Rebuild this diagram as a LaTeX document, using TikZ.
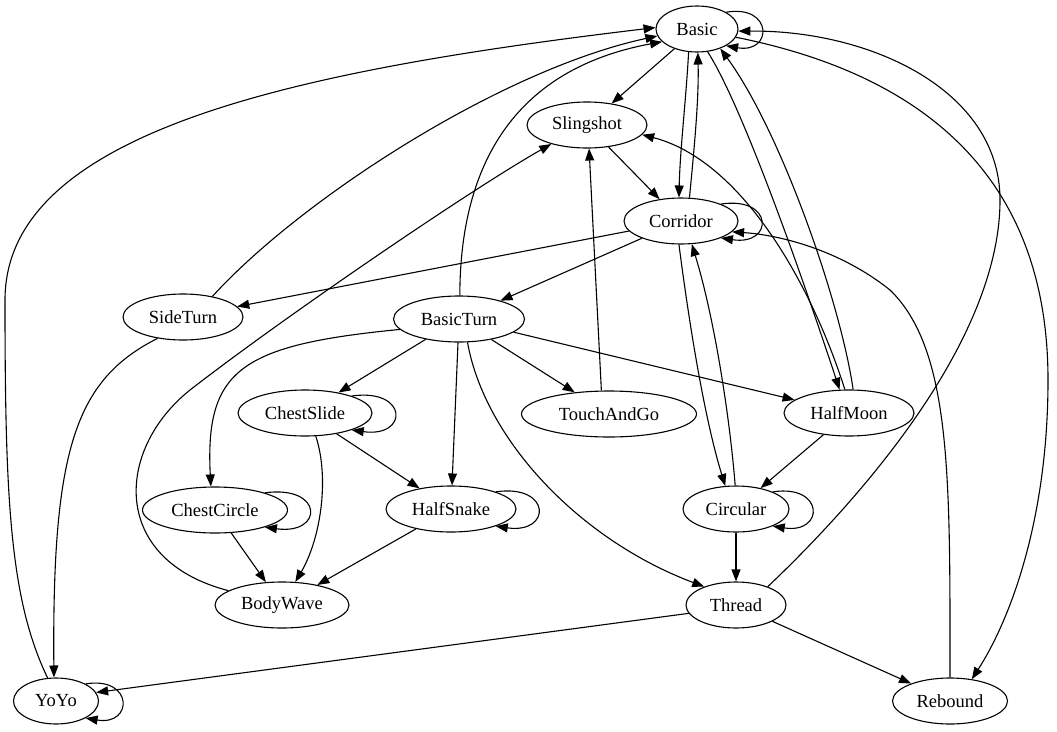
\documentclass[tikz,border=0pt]{standalone}
\usepackage{fontspec}
\setmainfont{Liberation Serif}
\usetikzlibrary{shapes.geometric,arrows.meta}
\begin{document}
\begin{tikzpicture}[x=1pt,y=1pt,
  nd/.style={ellipse,draw,line width=1.1pt,inner sep=0pt,minimum height=46pt,font=\fontsize{18.5}{20}\selectfont},
  e/.style={line width=1.1pt,-{Triangle[length=12pt,width=9pt]}}]
\useasboundingbox (0,0) rectangle (1057,-731);
\node[nd,minimum width=82pt]  (Basic)       at (697,-29)  {Basic};
\node[nd,minimum width=120pt] (Slingshot)   at (587,-125) {Slingshot};
\node[nd,minimum width=114pt] (Corridor)    at (681,-221) {Corridor};
\node[nd,minimum width=120pt] (SideTurn)    at (183,-317) {SideTurn};
\node[nd,minimum width=131pt] (BasicTurn)   at (459,-319) {BasicTurn};
\node[nd,minimum width=134pt] (ChestSlide)  at (305,-413) {ChestSlide};
\node[nd,minimum width=175pt] (TouchAndGo)  at (609,-414) {TouchAndGo};
\node[nd,minimum width=130pt] (HalfMoon)    at (849,-413) {HalfMoon};
\node[nd,minimum width=145pt] (ChestCircle) at (215,-510) {ChestCircle};
\node[nd,minimum width=130pt] (HalfSnake)   at (451,-509) {HalfSnake};
\node[nd,minimum width=106pt] (Circular)    at (736,-509) {Circular};
\node[nd,minimum width=134pt] (BodyWave)    at (282,-605) {BodyWave};
\node[nd,minimum width=100pt] (Thread)      at (736,-605) {Thread};
\node[nd,minimum width=85pt]  (YoYo)        at (56,-701)  {YoYo};
\node[nd,minimum width=115pt] (Rebound)     at (950,-701) {Rebound};

% self loops
\draw[e] (Basic.30) .. controls +(47,8) and +(47,-8) .. (Basic.-30);
\draw[e] (Corridor.23) .. controls +(53,8) and +(53,-8) .. (Corridor.-23);
\draw[e] (ChestSlide.20) .. controls +(57,8) and +(57,-8) .. (ChestSlide.-20);
\draw[e] (ChestCircle.19) .. controls +(59,8) and +(59,-8) .. (ChestCircle.-19);
\draw[e] (HalfSnake.21) .. controls +(56,8) and +(56,-8) .. (HalfSnake.-21);
\draw[e] (Circular.25) .. controls +(52,8) and +(52,-8) .. (Circular.-25);
\draw[e] (YoYo.30) .. controls +(48,8) and +(48,-8) .. (YoYo.-30);

% straight edges
\draw[e] (Basic) -- (Slingshot);
\draw[e] (Slingshot) -- (Corridor);
\draw[e] (Corridor) -- (SideTurn);
\draw[e] (Corridor) -- (BasicTurn);
\draw[e] (BasicTurn) -- (ChestSlide);
\draw[e] (BasicTurn) -- (TouchAndGo);
\draw[e] (BasicTurn) -- (HalfMoon);
\draw[e] (BasicTurn) -- (HalfSnake);
\draw[e] (ChestSlide) -- (HalfSnake);
\draw[e] (HalfMoon) -- (Circular);
\draw[e] (ChestCircle) -- (BodyWave);
\draw[e] (HalfSnake) -- (BodyWave);
\draw[e] (Circular) -- (Thread);
\draw[e] (Thread) -- (Rebound);
\draw[e] (Thread.190) -- (YoYo.12);
\draw[e] (TouchAndGo.108) -- (Slingshot.-85);

% curved edges
\draw[e] (Basic.-110) .. controls (686,-100) and (680,-150) .. (Corridor.95);
\draw[e] (Corridor.70) .. controls (694,-150) and (699,-100) .. (Basic.-88);
\draw[e] (Basic.-65) .. controls (745,-110) and (810,-300) .. (HalfMoon.112);
\draw[e] (HalfMoon.80) .. controls (840,-300) and (780,-130) .. (Basic.-40);
\draw[e] (Basic.-12) .. controls (950,-80) and (1048,-200) .. (1048,-380)
   .. controls (1048,-520) and (1010,-620) .. (Rebound.45);
\draw[e] (Thread.30) .. controls (880,-480) and (1000,-330) .. (1000,-200)
   .. controls (1000,-90) and (870,-30) .. (Basic.-3);
\draw[e] (Corridor.-95) .. controls (690,-330) and (705,-420) .. (Circular.115);
\draw[e] (Circular.92) .. controls (730,-420) and (715,-320) .. (Corridor.-65);
\draw[e] (SideTurn.35) .. controls (300,-200) and (500,-70) .. (Basic.190);
\draw[e] (SideTurn.-140) .. controls (75,-380) and (52,-450) .. (YoYo.95);
\draw[e] (BasicTurn.88) .. controls (460,-170) and (510,-70) .. (Basic.200);
\draw[e] (BasicTurn.190) .. controls (240,-345) and (205,-370) .. (ChestCircle.100);
\draw[e] (BasicTurn.-70) .. controls (485,-440) and (580,-540) .. (Thread.150);
\draw[e] (ChestSlide.-65) .. controls (330,-480) and (320,-540) .. (BodyWave.60);
\draw[e] (HalfMoon.100) .. controls (810,-280) and (740,-160) .. (Slingshot.-10);
\draw[e] (BodyWave.165) .. controls (110,-560) and (115,-450) .. (190,-390)
   .. controls (280,-320) and (470,-190) .. (Slingshot.-152);
\draw[e] (YoYo.110) .. controls (10,-600) and (5,-500) .. (5,-300)
   .. controls (5,-130) and (300,-70) .. (Basic.178);
\draw[e] (Rebound.90) .. controls (950,-480) and (952,-350) .. (890,-290)
   .. controls (840,-250) and (780,-235) .. (Corridor.-12);
\end{tikzpicture}
\end{document}
